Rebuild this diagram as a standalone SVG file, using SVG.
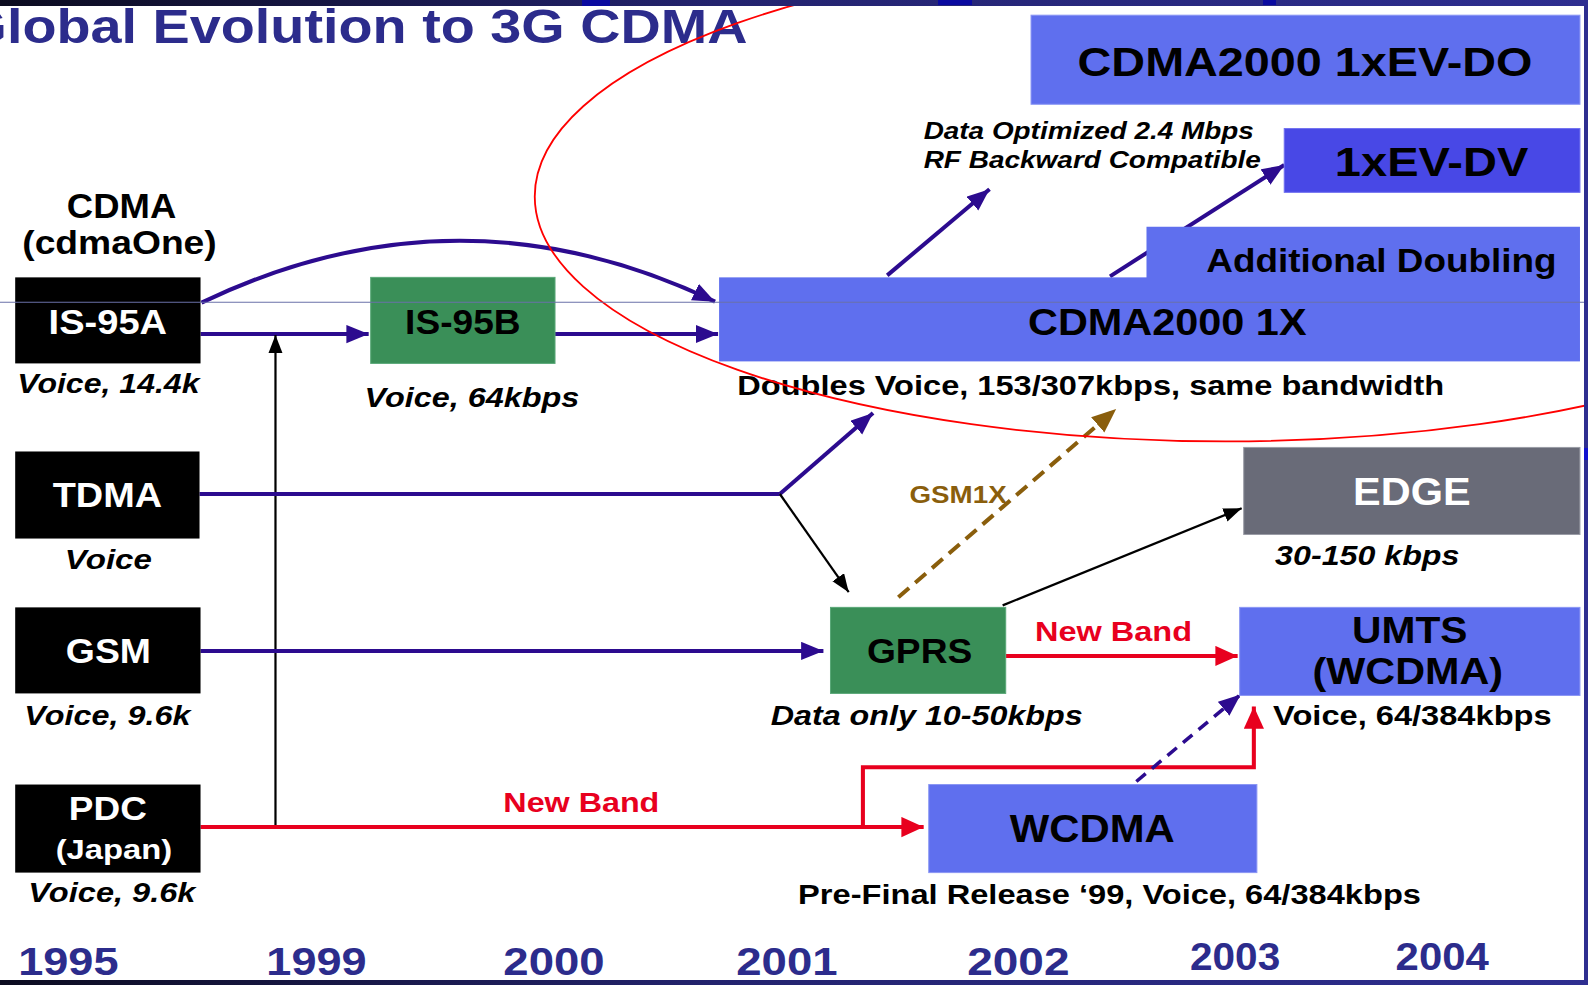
<svg xmlns="http://www.w3.org/2000/svg" width="1588" height="985" viewBox="0 0 1588 985">
<defs>
<style>
text{font-family:"Liberation Sans",Arial,Helvetica,sans-serif;font-weight:bold}
.it{font-style:italic}
.w{fill:#ffffff}
.k{fill:#000000}
.yr{fill:#2c2c8c;font-size:38px}
.nv{fill:none;stroke:#2c0b8f;stroke-width:4}
.bk{fill:none;stroke:#000000;stroke-width:2.2}
.rd{fill:none;stroke:#e8001e;stroke-width:4}
.blk{fill:#000000}
.grn{fill:#3a8f58;stroke:#5aa878;stroke-width:1}
.blu{fill:#5f6fee;stroke:#8a96f4;stroke-width:1}
</style>
<linearGradient id="band" x1="0" y1="0" x2="1" y2="0">
<stop offset="0" stop-color="#0c0c20"/>
<stop offset="0.45" stop-color="#23236e"/>
<stop offset="1" stop-color="#2e2e90"/>
</linearGradient>
<marker id="mNv" markerUnits="userSpaceOnUse" markerWidth="24" markerHeight="20" refX="22" refY="9" orient="auto" viewBox="0 0 24 20">
<path d="M0,0 L22,9 L0,18 z" fill="#2c0b8f"/>
</marker>
<marker id="mBk" markerUnits="userSpaceOnUse" markerWidth="20" markerHeight="16" refX="18" refY="7" orient="auto" viewBox="0 0 20 16">
<path d="M0,0 L18,7 L0,14 z" fill="#000000"/>
</marker>
<marker id="mRd" markerUnits="userSpaceOnUse" markerWidth="24" markerHeight="22" refX="22" refY="10" orient="auto" viewBox="0 0 24 22">
<path d="M0,0 L22,10 L0,20 z" fill="#e8001e"/>
</marker>
<marker id="mBr" markerUnits="userSpaceOnUse" markerWidth="26" markerHeight="22" refX="24" refY="10" orient="auto" viewBox="0 0 26 22">
<path d="M0,0 L24,10 L0,20 z" fill="#8a5e0c"/>
</marker>
</defs>
<rect width="1588" height="985" fill="#ffffff"/>
<g transform="scale(1.0128,1.0123)">
<text x="-36" y="42" font-size="48" fill="#2c2c8c" textLength="774" lengthAdjust="spacingAndGlyphs">Global Evolution to 3G CDMA</text>

<g id="connectors">
<path class="nv" d="M199,299 Q453,177 706,298" marker-end="url(#mNv)"/>
<path class="nv" d="M198,330 H364" marker-end="url(#mNv)"/>
<path class="nv" d="M548,330 H709" marker-end="url(#mNv)"/>
<path class="bk" d="M272,817 V331" marker-end="url(#mBk)"/>
<path class="nv" d="M197,488 H770"/>
<path class="nv" d="M770,488 L862,408" marker-end="url(#mNv)"/>
<path class="bk" d="M770,488 L838,585" marker-end="url(#mBk)"/>
<path class="nv" d="M198,643 H813" marker-end="url(#mNv)"/>
<path class="bk" d="M990,598 L1226,502" marker-end="url(#mBk)"/>
<path fill="none" stroke="#8a5e0c" stroke-width="4" stroke-dasharray="14,8" d="M887,590 L1102,404" marker-end="url(#mBr)"/>
<path class="rd" d="M993,648 H1222" marker-end="url(#mRd)"/>
<path class="rd" d="M198,817 H912" marker-end="url(#mRd)"/>
<path class="rd" d="M852,817 V758 H1238 V698" marker-end="url(#mRd)"/>
<path fill="none" stroke="#2c0b8f" stroke-width="3.5" stroke-dasharray="12,8" d="M1122,772 L1225,686" marker-end="url(#mNv)"/>
<path class="nv" d="M876,272 L977,187" marker-end="url(#mNv)"/>
<path class="nv" d="M1096,273 L1268,163" marker-end="url(#mNv)"/>
</g>

<g id="cdma-label">
<text x="66" y="215" font-size="34" class="k" textLength="108" lengthAdjust="spacingAndGlyphs">CDMA</text>
<text x="22" y="251" font-size="32" class="k" textLength="192" lengthAdjust="spacingAndGlyphs">(cdmaOne)</text>
</g>
<g id="is95a">
<rect class="blk" x="15" y="274" width="183" height="85"/>
<text x="48" y="330" font-size="34" class="w" textLength="117" lengthAdjust="spacingAndGlyphs">IS-95A</text>
<text x="17" y="388" font-size="27" class="k it" textLength="180" lengthAdjust="spacingAndGlyphs">Voice, 14.4k</text>
</g>
<g id="is95b">
<rect class="grn" x="366" y="274" width="182" height="85"/>
<text x="400" y="330" font-size="34" class="k" textLength="114" lengthAdjust="spacingAndGlyphs">IS-95B</text>
<text x="360" y="402" font-size="28" class="k it" textLength="212" lengthAdjust="spacingAndGlyphs">Voice, 64kbps</text>
</g>
<g id="evdo">
<rect class="blu" x="1018" y="15" width="542" height="88"/>
<text x="1064" y="75" font-size="40" class="k" textLength="449" lengthAdjust="spacingAndGlyphs">CDMA2000 1xEV-DO</text>
</g>
<g id="evdv">
<rect fill="#4848e6" stroke="#7070f0" stroke-width="1" x="1268" y="127" width="292" height="63"/>
<text x="1318" y="174" font-size="40" class="k" textLength="191" lengthAdjust="spacingAndGlyphs">1xEV-DV</text>
</g>
<g id="data-opt">
<text x="912" y="137" font-size="24" class="k it" textLength="326" lengthAdjust="spacingAndGlyphs">Data Optimized 2.4 Mbps</text>
<text x="912" y="166" font-size="24" class="k it" textLength="333" lengthAdjust="spacingAndGlyphs">RF Backward Compatible</text>
</g>
<g id="cdma2000-1x">
<rect fill="#5f6fee" x="1132" y="224" width="428" height="51"/>
<rect fill="#5f6fee" x="710" y="274" width="850" height="83"/>
<text x="1191" y="269" font-size="32" class="k" textLength="346" lengthAdjust="spacingAndGlyphs">Additional Doubling</text>
<text x="1015" y="331" font-size="36" class="k" textLength="275" lengthAdjust="spacingAndGlyphs">CDMA2000 1X</text>
<text x="728" y="390" font-size="27" class="k" textLength="698" lengthAdjust="spacingAndGlyphs">Doubles Voice, 153/307kbps, same bandwidth</text>
</g>
<g id="tdma">
<rect class="blk" x="15" y="446" width="182" height="86"/>
<text x="52" y="501" font-size="34" class="w" textLength="108" lengthAdjust="spacingAndGlyphs">TDMA</text>
<text x="64" y="562" font-size="27" class="k it" textLength="86" lengthAdjust="spacingAndGlyphs">Voice</text>
</g>
<g id="edge">
<rect fill="#696b78" stroke="#9a9ca6" stroke-width="1" x="1228" y="442" width="332" height="86"/>
<text x="1336" y="499" font-size="38" class="w" textLength="116" lengthAdjust="spacingAndGlyphs">EDGE</text>
<text x="1259" y="558" font-size="27" class="k it" textLength="182" lengthAdjust="spacingAndGlyphs">30-150 kbps</text>
</g>
<g id="gsm1x-label">
<text x="898" y="497" font-size="24" fill="#8a5e0c" textLength="96" lengthAdjust="spacingAndGlyphs">GSM1X</text>
</g>
<g id="gsm">
<rect class="blk" x="15" y="600" width="183" height="85"/>
<text x="65" y="655" font-size="34" class="w" textLength="84" lengthAdjust="spacingAndGlyphs">GSM</text>
<text x="24" y="716" font-size="27" class="k it" textLength="164" lengthAdjust="spacingAndGlyphs">Voice, 9.6k</text>
</g>
<g id="gprs">
<rect class="grn" x="820" y="600" width="173" height="85"/>
<text x="856" y="655" font-size="34" class="k" textLength="104" lengthAdjust="spacingAndGlyphs">GPRS</text>
<text x="761" y="716" font-size="27" class="k it" textLength="308" lengthAdjust="spacingAndGlyphs">Data only 10-50kbps</text>
</g>
<g id="newband-right">
<text x="1022" y="633" font-size="28" fill="#e8001e" textLength="155" lengthAdjust="spacingAndGlyphs">New Band</text>
</g>
<g id="umts">
<rect class="blu" x="1224" y="600" width="336" height="87"/>
<text x="1335" y="635" font-size="36" class="k" textLength="114" lengthAdjust="spacingAndGlyphs">UMTS</text>
<text x="1296" y="676" font-size="36" class="k" textLength="188" lengthAdjust="spacingAndGlyphs">(WCDMA)</text>
<text x="1257" y="716" font-size="27" class="k" textLength="275" lengthAdjust="spacingAndGlyphs">Voice, 64/384kbps</text>
</g>
<g id="pdc">
<rect class="blk" x="15" y="775" width="183" height="87"/>
<text x="68" y="810" font-size="32" class="w" textLength="77" lengthAdjust="spacingAndGlyphs">PDC</text>
<text x="55" y="849" font-size="28" class="w" textLength="115" lengthAdjust="spacingAndGlyphs">(Japan)</text>
<text x="28" y="891" font-size="27" class="k it" textLength="165" lengthAdjust="spacingAndGlyphs">Voice, 9.6k</text>
</g>
<g id="newband-left">
<text x="497" y="802" font-size="28" fill="#e8001e" textLength="154" lengthAdjust="spacingAndGlyphs">New Band</text>
</g>
<g id="wcdma">
<rect class="blu" x="917" y="775" width="324" height="87"/>
<text x="997" y="832" font-size="38" class="k" textLength="163" lengthAdjust="spacingAndGlyphs">WCDMA</text>
<text x="788" y="893" font-size="27" class="k" textLength="615" lengthAdjust="spacingAndGlyphs">Pre-Final Release ‘99, Voice, 64/384kbps</text>
</g>
<g id="years">
<text class="yr" x="18" y="963" textLength="99" lengthAdjust="spacingAndGlyphs">1995</text>
<text class="yr" x="263" y="963" textLength="99" lengthAdjust="spacingAndGlyphs">1999</text>
<text class="yr" x="497" y="963" textLength="100" lengthAdjust="spacingAndGlyphs">2000</text>
<text class="yr" x="727" y="963" textLength="100" lengthAdjust="spacingAndGlyphs">2001</text>
<text class="yr" x="955" y="963" textLength="101" lengthAdjust="spacingAndGlyphs">2002</text>
<text class="yr" x="1175" y="958" textLength="89" lengthAdjust="spacingAndGlyphs">2003</text>
<text class="yr" x="1378" y="958" textLength="92" lengthAdjust="spacingAndGlyphs">2004</text>
</g>
<g id="overlay">
<ellipse cx="1210" cy="194" rx="682" ry="242" fill="none" stroke="#ff0000" stroke-width="1.8"/>
<line x1="0" y1="298.5" x2="1564" y2="298.5" stroke="#6a70a8" stroke-width="1"/>
</g>
</g>
<g id="frame">
<rect x="0" y="0" width="1588" height="6" fill="url(#band)"/>
<rect x="0" y="980" width="1588" height="5" fill="url(#band)"/>
<rect x="1584" y="0" width="4" height="985" fill="#2e2e90"/>
<rect x="1584" y="448" width="4" height="12" fill="#1010d0"/>
<rect x="582" y="0" width="28" height="6" fill="#0a0aa0"/>
<rect x="938" y="0" width="34" height="5" fill="#0a0aa0"/>
<rect x="1263" y="0" width="13" height="5" fill="#0a0aa0"/>
</g>
</svg>
